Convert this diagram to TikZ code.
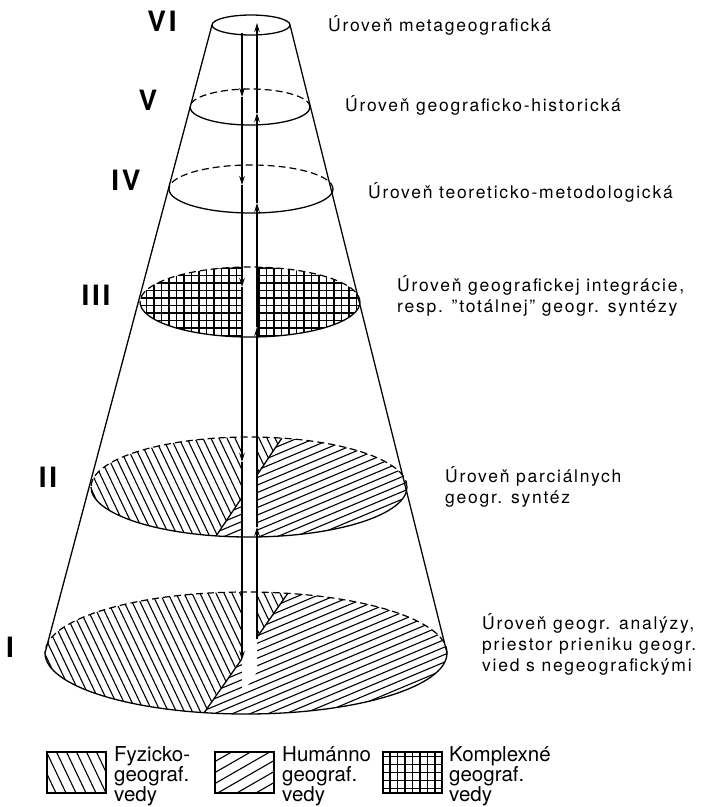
\documentclass[tikz,border=0pt]{standalone}
\usepackage{fontspec}
\setmainfont{TeX Gyre Heros}[LetterSpace=10]
\usetikzlibrary{arrows.meta}

\begin{document}
\begin{tikzpicture}[
    x=1pt, y=-1pt,
    rim/.style={line width=1.3pt},
    rimback/.style={line width=1.2pt, dash pattern=on 7pt off 4pt},
    hatch/.style={line width=1.1pt},
    shaft/.style={line width=1.3pt, -{Stealth[length=9pt, width=5.5pt]}},
    lvl/.style={anchor=west, align=left, inner sep=0pt, font=\fontsize{17.5}{21}\selectfont},
    keytext/.style={anchor=west, align=left, inner sep=0pt, font=\fontsize{20.5}{20}\selectfont\addfontfeature{LetterSpace=0}},
    num/.style={inner sep=0pt, font=\fontsize{28}{28}\selectfont\bfseries},
    key/.style={draw, line width=1.3pt, minimum width=59pt, minimum height=41pt, inner sep=0pt}
  ]
  \useasboundingbox (0,0) rectangle (702,807);

  % levels I and II: two sectors
  \foreach \cx/\cy/\rx/\ry/\cut in {246/653/201/61/22, 249/487/158/50/0}{
      \begin{scope}
        \clip (\cx,\cy) ellipse [x radius=\rx pt, y radius=\ry pt];
        \begin{scope}
          \clip ({\cx-\rx-5},{\cy-1.5*\ry}) -- ({\cx+0.312*\rx},{\cy-1.467*\ry}) -- ({\cx-0.312*\rx},{\cy+1.467*\ry}) -- ({\cx-\rx-5},{\cy+1.5*\ry}) -- cycle;
          \foreach \k in {-36,...,28}
            \draw[hatch] ({\cx+\k*8},{\cy-\ry-3}) -- ++({(2*\ry+6)/2.1},{2*\ry+6});
        \end{scope}
        \begin{scope}
          \clip ({\cx+\rx+5},{\cy-1.5*\ry}) -- ({\cx+0.312*\rx},{\cy-1.467*\ry}) -- ({\cx-0.312*\rx},{\cy+1.467*\ry}) -- ({\cx+\rx+5},{\cy+1.5*\ry}) -- cycle;
          \foreach \k in {0,...,42}
            \draw[hatch] ({\cx-\rx-5},{\cy-\ry+\k*7.5}) -- ++({2*\rx+10},{-0.42*(2*\rx+10)});
        \end{scope}
        \draw[rim] ({\cx+0.208*\rx},{\cy-0.978*\ry}) -- ({\cx-0.208*\rx},{\cy+0.978*\ry});
        \fill[white] (242,{\cy-\ry-2}) -- (257,{\cy-\ry-2}) -- (257,{\cy+\ry+2-\cut-\cut}) -- (242,{\cy+\ry+2-\cut}) -- cycle;
      \end{scope}
    }

  % level III: grid
  \begin{scope}
    \clip (250,302) ellipse [x radius=110pt, y radius=35pt];
    \foreach \k in {0,...,30}
      \draw[hatch] ({139+\k*7.5},265) -- ++(0,75);
    \foreach \k in {0,...,10}
      \draw[hatch] (138,{268+\k*7.5}) -- ++(226,0);
    \fill[white] (242,265) rectangle (257,340);
  \end{scope}

  % rims
  \foreach \cx/\cy/\rx/\ry in {246/653/201/61, 249/487/158/50, 250/302/110/35, 251/189/82/24, 250/107/60/18}{
      \draw[rimback] ({\cx+\rx},\cy) arc [start angle=0, end angle=180, x radius=\rx pt, y radius=\ry pt];
      \draw[rim] ({\cx-\rx},\cy) arc [start angle=180, end angle=360, x radius=\rx pt, y radius=\ry pt];
    }
  \draw[rim] (251,25) ellipse [x radius=39pt, y radius=10pt];

  % cone
  \coordinate (tl) at (212,25);
  \coordinate (tr) at (290,25);
  \coordinate (bl) at (45,653);
  \coordinate (br) at (447,653);
  \draw[rim] (tl) -- (bl);
  \draw[rim] (tr) -- (br);

  % shaft
  \foreach \n/\y in {0/33, 1/97, 2/185, 3/287, 4/462, 5/660}
    \coordinate (d\n) at (242,\y);
  \foreach \n/\y in {0/639, 1/527, 2/327, 3/203, 4/113, 5/23}
    \coordinate (u\n) at (257,\y);
  \foreach \a/\b in {0/1, 1/2, 2/3, 3/4, 4/5}{
      \draw[shaft] (d\a) -- (d\b);
      \draw[shaft] (u\a) -- (u\b);
    }

  % numerals
  \node[num] (n6) at (162,21) {VI};
  \node[num] (n5) at (148,100) {V};
  \node[num] (n4) at (126,180) {IV};
  \node[num] (n3) at (96,295) {III};
  \node[num] (n2) at (48,477) {II};
  \node[num] (n1) at (10,647) {I};

  % level texts
  \node[lvl] (t6) at (328,25) {Úroveň metageografická};
  \node[lvl] (t5) at (345,105) {Úroveň geograficko-historická};
  \node[lvl] (t4) at (368,192) {Úroveň teoreticko-metodologická};
  \node[lvl] (t3) at (397,296) {Úroveň geografickej integrácie,\\resp. "totálnej" geogr. syntézy};
  \node[lvl] (t2) at (445,487) {Úroveň parciálnych\\geogr. syntéz};
  \node[lvl] (t1) at (482,644) {Úroveň geogr. analýzy,\\priestor prieniku geogr.\\vied s negeografickými};

  % legend
  \node[key, path picture={
      \foreach \k in {-10,...,10}
        \draw[hatch] ([xshift=\k*10pt]path picture bounding box.north) -- ++(20pt,-42pt);
    }] (kf) at (76.5,772.5) {};
  \node[key, path picture={
      \foreach \k in {-10,...,10}
        \draw[hatch] ([yshift=\k*11pt]path picture bounding box.west) -- ++(80pt,46pt);
    }] (kh) at (244.5,772.5) {};
  \node[key, path picture={
      \foreach \k in {-4,...,4}
        \draw[hatch] ([xshift=\k*7.5pt]path picture bounding box.north) -- ++(0pt,-42pt);
      \foreach \k in {-3,...,3}
        \draw[hatch] ([yshift=\k*8pt]path picture bounding box.west) -- ++(60pt,0pt);
    }] (kk) at (412.5,772.5) {};
  \node[keytext] (lf) at (114,776.5) {Fyzicko-\\geograf.\\vedy};
  \node[keytext] (lh) at (282,776.5) {Humánno\\geograf.\\vedy};
  \node[keytext] (lk) at (449,776.5) {Komplexné\\geograf.\\vedy};
\end{tikzpicture}
\end{document}
